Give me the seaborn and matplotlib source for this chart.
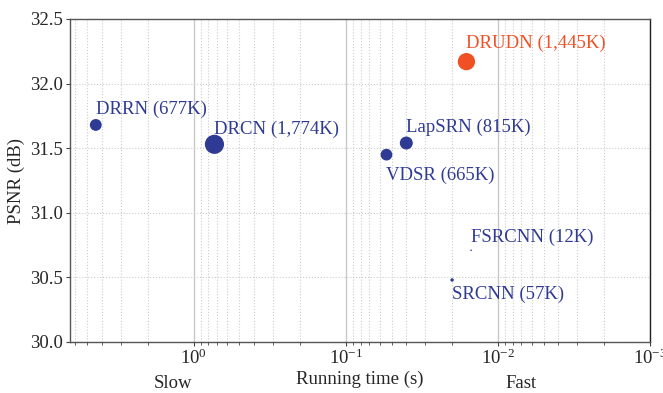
import numpy as np
import pandas as pd
import matplotlib
matplotlib.use("Agg")
import matplotlib.pyplot as plt
import matplotlib.ticker as mticker
import seaborn as sns

# ---- data ----
methods = ["DRRN", "DRCN", "VDSR", "LapSRN", "DRUDN", "FSRCNN", "SRCNN"]
run_time = [4.4, 0.73, 0.054, 0.040, 0.0161, 0.0150, 0.020]
psnr = [31.68, 31.53, 31.45, 31.54, 32.17, 30.71, 30.48]
params_k = [677, 1774, 665, 815, 1445, 12, 57]
labels = ["DRRN (677K)", "DRCN (1,774K)", "VDSR (665K)", "LapSRN (815K)",
          "DRUDN (1,445K)", "FSRCNN (12K)", "SRCNN (57K)"]
# label offsets in points (dx, dy)
label_pos = [(0, 11), (0, 11), (0, -15), (0, 11), (0, 13), (0, 9), (0, -10)]

BLUE = "#2e3a94"
ORANGE = "#f05024"
palette = {m: (ORANGE if m == "DRUDN" else BLUE) for m in methods}

df = pd.DataFrame({"method": methods, "time": run_time, "psnr": psnr, "params": params_k})

sns.set_theme(style="white")
plt.rcParams["font.family"] = "serif"
plt.rcParams["font.serif"] = ["Liberation Serif", "DejaVu Serif"]
plt.rcParams["mathtext.fontset"] = "stix"

FS = 13.5

fig = plt.figure(figsize=(6.63, 3.93), dpi=100)
ax = fig.add_axes([70 / 663, 1 - 342 / 393, 580 / 663, 323 / 393])

sns.scatterplot(data=df, x="time", y="psnr", hue="method", palette=palette,
                size="params", sizes=(0, 190), size_norm=(0, 1774),
                linewidth=0, legend=False, ax=ax, zorder=3)

for m, t, p, lab, off in zip(methods, run_time, psnr, labels, label_pos):
    ax.annotate(lab, (t, p), xytext=off, textcoords="offset points",
                color=palette[m], fontsize=FS, ha="left", va="center")

ax.set_xscale("log")
ax.set_xlim(6.5, 0.001)
ax.set_ylim(30.0, 32.5)
ax.set_yticks([30.0, 30.5, 31.0, 31.5, 32.0, 32.5])
ax.yaxis.set_major_formatter(mticker.FormatStrFormatter("%.1f"))
ax.xaxis.set_major_locator(mticker.LogLocator(base=10, numticks=10))
ax.xaxis.set_minor_locator(mticker.LogLocator(base=10, subs=np.arange(2, 10), numticks=10))
ax.xaxis.set_minor_formatter(mticker.NullFormatter())

ax.grid(which="major", axis="x", color="#c8c8c8", linestyle="-", linewidth=1.0)
ax.grid(which="minor", axis="x", color="#cccccc", linestyle=":", linewidth=0.8)
ax.grid(which="major", axis="y", color="#cccccc", linestyle=":", linewidth=0.8)
ax.set_axisbelow(True)

for s in ax.spines.values():
    s.set_color("#555555")
    s.set_linewidth(1.0)
ax.spines["right"].set_color("#222222")

ax.tick_params(axis="both", which="major", direction="out", length=3, width=0.8,
               color="#444444", labelsize=FS, pad=2)
ax.tick_params(axis="x", which="minor", direction="out", length=2, width=0.6, color="#444444")
ax.tick_params(axis="x", which="both", bottom=True)
ax.tick_params(axis="y", left=True)

ax.set_ylabel("PSNR (dB)", fontsize=FS, labelpad=4)
ax.set_xlabel("Running time (s)", fontsize=FS, labelpad=2)
ax.text(173, 393 - 383, "Slow", transform=None, fontsize=FS, ha="center", va="center")
ax.text(521, 393 - 383, "Fast", transform=None, fontsize=FS, ha="center", va="center")

fig.savefig("out.png", dpi=100)
